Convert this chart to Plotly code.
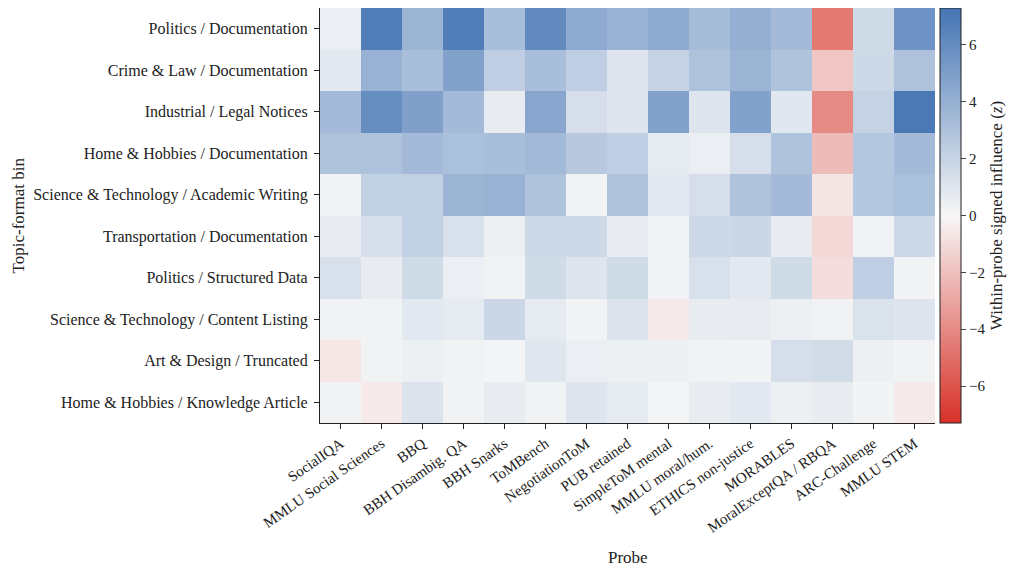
import plotly.graph_objects as go

probes = ["SocialIQA", "MMLU Social Sciences", "BBQ", "BBH Disambig. QA", "BBH Snarks",
          "ToMBench", "NegotiationToM", "PUB retained", "SimpleToM mental", "MMLU moral/hum.",
          "ETHICS non-justice", "MORABLES", "MoralExceptQA / RBQA", "ARC-Challenge", "MMLU STEM"]

bins = ["Politics / Documentation",
        "Crime & Law / Documentation",
        "Industrial / Legal Notices",
        "Home & Hobbies / Documentation",
        "Science & Technology / Academic Writing",
        "Transportation / Documentation",
        "Politics / Structured Data",
        "Science & Technology / Content Listing",
        "Art & Design / Truncated",
        "Home & Hobbies / Knowledge Article"]

row_politics_doc = [0.5, 6.8, 3.7, 6.8, 3.2, 6.1, 4.3, 3.8, 4.3, 3.3, 4.0, 3.4, -4.6, 1.6, 5.6]
row_crime_doc = [0.8, 3.9, 3.2, 4.8, 2.3, 3.2, 2.3, 1.0, 2.0, 3.0, 3.7, 2.9, -1.8, 1.7, 3.0]
row_industrial_legal = [3.4, 5.9, 4.9, 3.4, 0.6, 4.6, 1.4, 1.0, 4.8, 1.0, 4.8, 0.9, -4.0, 2.1, 7.1]
row_home_doc = [3.0, 3.0, 3.4, 3.1, 3.2, 3.5, 2.6, 2.3, 0.7, 0.5, 1.4, 2.9, -2.2, 2.7, 3.4]
row_scitech_academic = [0.2, 2.2, 2.2, 3.7, 3.9, 2.9, 0.2, 3.0, 0.8, 1.4, 2.9, 3.4, -0.7, 2.7, 3.1]
row_transport_doc = [0.6, 1.4, 2.2, 1.3, 0.4, 1.7, 1.7, 0.6, 0.3, 1.7, 1.8, 0.6, -1.1, 0.3, 1.7]
row_politics_struct = [1.3, 0.6, 1.6, 0.5, 0.3, 1.6, 1.0, 1.6, 0.3, 1.3, 0.8, 1.6, -0.9, 2.3, 0.2]
row_scitech_listing = [0.3, 0.3, 0.8, 0.7, 1.8, 0.7, 0.2, 1.1, -0.5, 0.6, 0.6, 0.4, 0.3, 1.2, 1.0]
row_art_truncated = [-0.6, 0.3, 0.4, 0.3, 0.15, 0.9, 0.5, 0.4, 0.4, 0.3, 0.2, 1.4, 1.5, 0.4, 0.3]
row_home_knowledge = [0.2, -0.5, 1.1, 0.3, 0.6, 0.3, 1.0, 0.7, 0.15, 0.6, 0.8, 0.4, 0.6, 0.2, -0.5]

z = [row_politics_doc, row_crime_doc, row_industrial_legal, row_home_doc, row_scitech_academic,
     row_transport_doc, row_politics_struct, row_scitech_listing, row_art_truncated, row_home_knowledge]

zlim = 7.3
font_family = "Liberation Serif, DejaVu Serif, serif"

fig = go.Figure(go.Heatmap(
    z=z, x=probes, y=bins,
    zmin=-zlim, zmax=zlim,
    colorscale=[[0.0, "#d73027"], [0.5, "#f7f7f7"], [1.0, "#4575b4"]],
    xgap=0, ygap=0,
    colorbar=dict(
        x=1.008, xanchor="left", xref="paper", xpad=0, ypad=0,
        y=0.5, yanchor="middle", len=1.0, lenmode="fraction",
        thickness=21, outlinecolor="#222", outlinewidth=1,
        tickvals=[-6, -4, -2, 0, 2, 4, 6], ticks="outside", ticklen=5,
        tickfont=dict(size=15, family=font_family, color="#222"),
        title=dict(text="Within-probe signed influence (<i>z</i>)", side="right",
                   font=dict(size=17, family=font_family, color="#222")),
    ),
))

# the page body has an 8px margin, so the figure is 8px smaller than the window
fig.update_layout(
    width=1008, height=563,
    margin=dict(l=312, r=81, t=0, b=148, autoexpand=False),
    paper_bgcolor="white", plot_bgcolor="white",
    font=dict(family=font_family, color="#222"),
    annotations=[
        dict(text="Probe", xref="paper", yref="paper", x=0.5, y=-0.3253,
             xanchor="center", yanchor="middle", showarrow=False,
             font=dict(size=17, family=font_family, color="#222")),
        dict(text="Topic-format bin", xref="paper", yref="paper", x=-0.4895, y=0.5,
             xanchor="center", yanchor="middle", textangle=-90, showarrow=False,
             font=dict(size=17, family=font_family, color="#222")),
    ],
)
fig.update_xaxes(
    automargin=False,
    tickangle=-35, tickfont=dict(size=15, family=font_family),
    ticks="outside", ticklen=5, tickcolor="#222",
    showline=True, linecolor="#222", linewidth=1.2, mirror=False,
    showgrid=False, zeroline=False,
)
fig.update_yaxes(
    automargin=False,
    autorange="reversed", tickfont=dict(size=16, family=font_family),
    ticks="outside", ticklen=5, tickcolor="#222", ticklabelstandoff=3,
    showline=True, linecolor="#222", linewidth=1.2, mirror=False,
    showgrid=False, zeroline=False,
)

fig.write_html("out.html")
